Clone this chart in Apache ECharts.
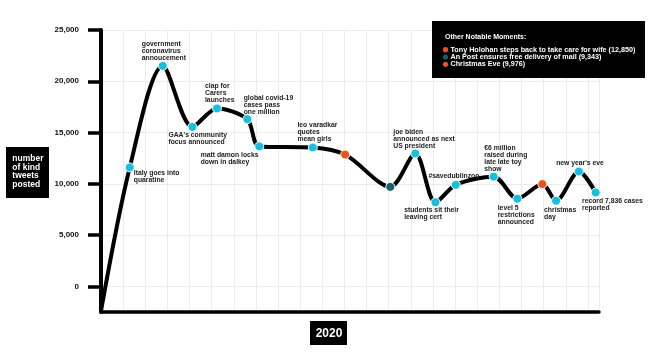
<!DOCTYPE html>
<html><head><meta charset="utf-8">
<script src="https://cdn.jsdelivr.net/npm/echarts@6/dist/echarts.min.js"></script>
<style>html,body{margin:0;padding:0;background:#fff}#c{width:656px;height:357px}</style>
</head><body><div id="c"></div>
<script>
// ---- data ----
const xPos   = [0, 1.30, 2.79, 4.13, 5.24, 6.61, 7.15, 9.57, 11.03, 13.07, 14.20, 15.11, 16.03, 17.74, 18.81, 19.94, 20.56, 21.59, 22.35];
const tweets = [-2400, 11600, 21500, 15550, 17350, 16300, 13650, 13550, 12850, 9700, 12950, 8200, 9900, 10700, 8550, 9976, 8350, 11200, 9150];
const moments = ['', 'Italy goes into\nquaratine', 'government\ncoronavirus\nannoucement', "GAA's community\nfocus announced",
  'clap for\nCarers\nlaunches', 'global covid-19\ncases pass\none million', 'matt damon locks\ndown in dalkey',
  'leo varadkar\nquotes\nmean girls', '', '', 'joe biden\nannounced as next\nUS president', 'students sit their\nleaving cert',
  '#savedublinzoo', '€6 million\nraised during\nlate late toy\nshow', 'level 5\nrestrictions\nannounced', '',
  'christmas\nday', "new year's eve", 'record 7,836 cases\nreported'];
const kinds = ['none','main','main','main','main','main','main','main','orange','teal','main','main','main','main','main','orange','main','main','main'];
const yTicks = [0, 5000, 10000, 15000, 20000, 25000];
const otherMoments = ['Tony Holohan steps back to take care for wife (12,850)', 'An Post ensures free delivery of mail (9,343)', 'Christmas Eve (9,976)'];
const otherKinds = ['orange', 'teal', 'orange'];

// ---- layout / style ----
const labelOffsets = [null, [4,2.6], [-21,-25.5], [-24,4.5], [-12,-25.4], [-3.6,-24.7], [-58.6,5.5], [-15.4,-25.4], null, null,
  [-22,-25.4], [-31.3,4.5], [-27.4,-12.1], [-9.4,-32.2], [-19.6,5.8], null, [-12,5.5], [-22.7,-12.2], [-13.7,4.8]];
const colors = { main: '#17bfdf', orange: '#e8521b', teal: '#17606d' };
const FONT = "'Liberation Sans', Arial, Helvetica, sans-serif";

const chart = echarts.init(document.getElementById('c'), null, { renderer: 'canvas' });

const seriesData = xPos.map((x, i) => {
  const k = kinds[i];
  const item = { value: [x, tweets[i]] };
  if (k === 'none') { item.symbol = 'none'; return item; }
  item.itemStyle = { color: colors[k] };
  const off = labelOffsets[i];
  if (moments[i] && off) {
    item.label = {
      show: true, formatter: moments[i], position: [off[0] + 5, off[1] + 5],
      align: 'left', verticalAlign: 'top'
    };
  }
  return item;
});

const graphics = [
  // legend box
  { type: 'rect', shape: { x: 432, y: 21, width: 213, height: 57 }, style: { fill: '#000' }, z: 10 },
  { type: 'text', x: 445, y: 36.7, style: { text: 'Other Notable Moments:', fill: '#fff', font: 'bold 7px ' + FONT, verticalAlign: 'middle' }, z: 11 },
  // y name box
  { type: 'rect', shape: { x: 6, y: 147, width: 43, height: 51 }, style: { fill: '#000' }, z: 10 },
  { type: 'text', x: 12.3, y: 154.7, style: { text: 'number\nof kind\ntweets\nposted', fill: '#fff', font: 'bold 8.5px ' + FONT, lineHeight: 8.5, verticalAlign: 'top' }, z: 11 },
  // x name box
  { type: 'rect', shape: { x: 310, y: 321, width: 37, height: 24 }, style: { fill: '#000' }, z: 10 },
  { type: 'text', x: 329, y: 333.6, style: { text: '2020', fill: '#fff', font: 'bold 12px ' + FONT, align: 'center', verticalAlign: 'middle' }, z: 11 }
];
const legendY = [49.7, 57, 64.3];
otherMoments.forEach((t, i) => {
  graphics.push({ type: 'circle', shape: { cx: 445.5, cy: legendY[i], r: 2.6 }, style: { fill: colors[otherKinds[i]] }, z: 11 });
  graphics.push({ type: 'text', x: 450.5, y: legendY[i], style: { text: t, fill: '#fff', font: 'bold 7.2px ' + FONT, verticalAlign: 'middle' }, z: 11 });
});

chart.setOption({
  animation: false,
  backgroundColor: '#fff',
  textStyle: { fontFamily: FONT },
  grid: { left: 101, right: 57, top: 30, bottom: 45, containLabel: false },
  xAxis: {
    type: 'value', min: 0, max: 22.5, interval: 1,
    axisLine: { show: true, onZero: false, lineStyle: { color: '#000', width: 3.5 } },
    axisTick: { show: false }, axisLabel: { show: false },
    splitLine: { show: true, lineStyle: { color: '#ececec', width: 1 } }
  },
  yAxis: {
    type: 'value', min: -2500, max: 25000, interval: 1250,
    axisLine: { show: true, onZero: false, lineStyle: { color: '#000', width: 4 } },
    axisTick: { show: true, customValues: yTicks, length: 13, lineStyle: { color: '#000', width: 3.5 } },
    axisLabel: { show: true, customValues: yTicks, margin: 22, fontSize: 8, fontWeight: 'bold', color: '#111',
      formatter: v => Number(v).toLocaleString('en-US') },
    splitLine: { show: true, lineStyle: { color: '#ececec', width: 1 } }
  },
  series: [{
    type: 'line', data: seriesData, smooth: 0.3,
    lineStyle: { color: '#000', width: 4 },
    symbol: 'circle', symbolSize: 9,
    itemStyle: { borderColor: '#fff', borderWidth: 1 },
    label: { fontSize: 6.8, fontWeight: 'bold', color: '#222', lineHeight: 7, fontFamily: FONT },
    emphasis: { disabled: true },
    z: 3
  }],
  graphic: graphics
});
</script>
</body></html>
